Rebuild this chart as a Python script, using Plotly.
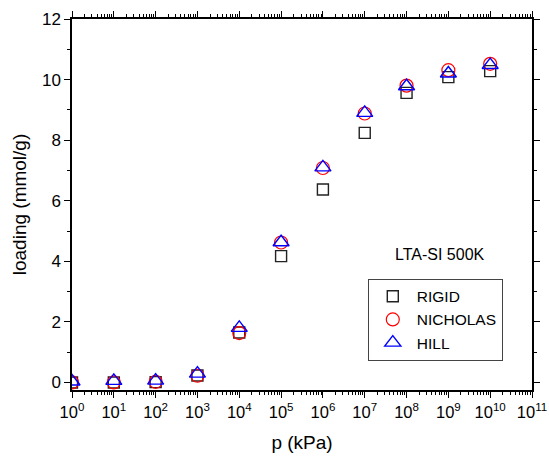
import plotly.graph_objects as go

pressure = [1e0, 1e1, 1e2, 1e3, 1e4, 1e5, 1e6, 1e7, 1e8, 1e9, 1e10]
rigid = [0.0, 0.0, 0.01, 0.23, 1.65, 4.17, 6.37, 8.24, 9.56, 10.08, 10.28]
nicholas = [0.0, 0.0, 0.02, 0.22, 1.63, 4.62, 7.08, 8.88, 9.80, 10.31, 10.52]
hill = [0.03, 0.05, 0.06, 0.29, 1.80, 4.63, 7.10, 8.90, 9.78, 10.20, 10.48]

x_ticks = [10 ** n for n in range(0, 12)]
x_ticktext = ["10<sup>%d</sup>" % n for n in range(0, 12)]
x_minor = [k * 10 ** n for n in range(0, 11) for k in range(2, 10)]

FONT = "Liberation Sans, Arial, sans-serif"

fig = go.Figure()
fig.add_trace(go.Scatter(
    x=pressure, y=rigid, mode="markers", name="RIGID",
    marker=dict(symbol="square-open", size=11, color="#222222", line=dict(width=1.4)),
))
fig.add_trace(go.Scatter(
    x=pressure, y=nicholas, mode="markers", name="NICHOLAS",
    marker=dict(symbol="circle-open", size=13, color="#ff0000", line=dict(width=1.2)),
))
fig.add_trace(go.Scatter(
    x=pressure, y=hill, mode="markers", name="HILL",
    marker=dict(symbol="triangle-up-open", size=14, color="#0000ff", line=dict(width=1.4)),
))

fig.update_layout(
    width=549, height=461,
    margin=dict(l=72, r=17, t=19, b=71),
    paper_bgcolor="white", plot_bgcolor="white",
    font=dict(family=FONT, size=17, color="black"),
    showlegend=True,
    legend=dict(
        x=0.643, y=0.300, xanchor="left", yanchor="top",
        bgcolor="white", bordercolor="#444444", borderwidth=1,
        font=dict(size=15.5, family=FONT), itemwidth=38,
        tracegroupgap=0,
    ),
    annotations=[dict(
        text="LTA-SI 500K", x=0.800, y=0.365, xref="paper", yref="paper",
        xanchor="center", yanchor="middle", showarrow=False,
        font=dict(size=16, family=FONT),
    )],
)

fig.update_xaxes(
    type="log", range=[0, 11], automargin=False, ticklabeloverflow="allow",
    tickvals=x_ticks, ticktext=x_ticktext,
    ticks="outside", ticklen=6, tickwidth=1, tickcolor="black",
    minor=dict(tickvals=x_minor, ticks="outside", ticklen=3, tickcolor="black"),
    showline=True, linecolor="black", linewidth=1.5, mirror="allticks",
    showgrid=False, zeroline=False,
    title=dict(text="p (kPa)", font=dict(size=19), standoff=16),
    tickfont=dict(size=16.5),
)
fig.update_yaxes(
    range=[-0.25, 12], dtick=2, tick0=0, automargin=False,
    ticks="outside", ticklen=6, tickwidth=1, tickcolor="black",
    minor=dict(dtick=1, tick0=0, ticks="outside", ticklen=3, tickcolor="black"),
    showline=True, linecolor="black", linewidth=1.5, mirror="allticks",
    showgrid=False, zeroline=False,
    title=dict(text="loading (mmol/g)", font=dict(size=19), standoff=10),
    tickfont=dict(size=17),
)

fig.write_html("out.html")
